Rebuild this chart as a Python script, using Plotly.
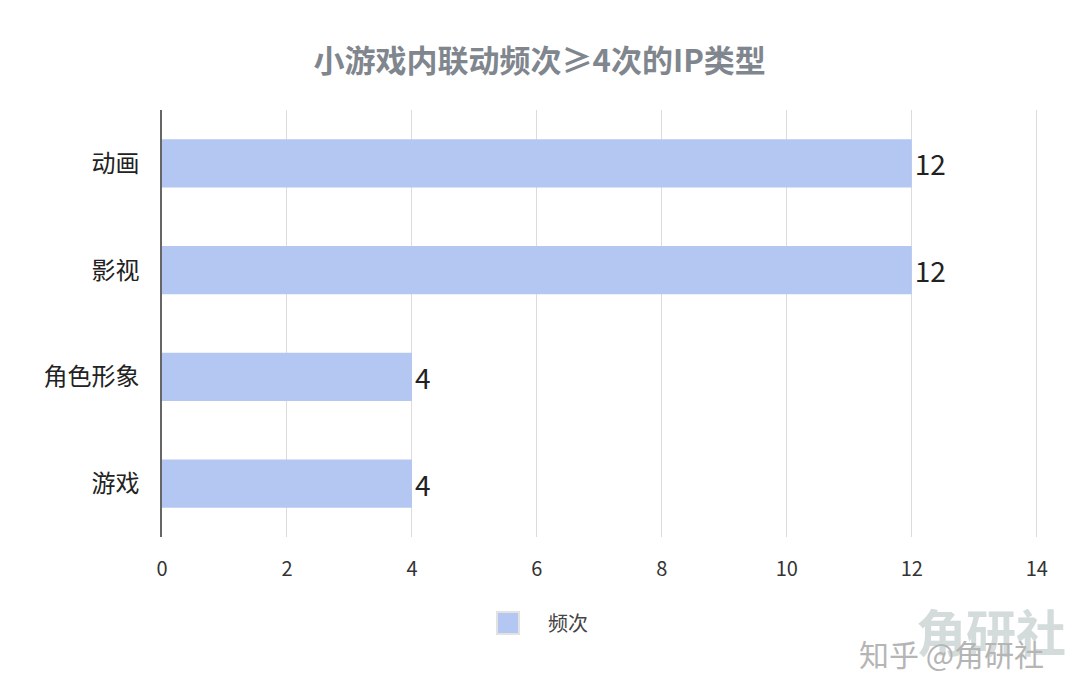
import plotly.graph_objects as go

categories = ["动画", "影视", "角色形象", "游戏"]
values = [12, 12, 4, 4]
series_name = "频次"
title_text = "小游戏内联动频次≥4次的IP类型"
x_ticks = [0, 2, 4, 6, 8, 10, 12, 14]

FONT = "Noto Sans CJK SC"
BAR_COLOR = "#b4c6f2"

fig = go.Figure()
fig.add_trace(go.Bar(
    y=categories,
    x=values,
    orientation="h",
    name=series_name,
    marker=dict(color=BAR_COLOR, line=dict(width=0)),
    width=0.45,
    text=[str(v) for v in values],
    textposition="outside",
    textfont=dict(size=28, color="#222222", family=FONT),
    cliponaxis=False,
    showlegend=False,
))

fig.update_layout(
    width=1072, height=687,
    paper_bgcolor="white", plot_bgcolor="white",
    margin=dict(l=154, r=42, t=102, b=158),
    font=dict(family=FONT),
    title=dict(text=title_text, x=0.496, xanchor="center", y=0.922, yanchor="middle",
               font=dict(size=31, color="#80868e", family=FONT, weight="bold")),
    xaxis=dict(range=[0, 14.02], tickvals=x_ticks, showgrid=True, gridcolor="#dcdcdc", gridwidth=1,
               zeroline=False, showline=False, ticks="", automargin=False,
               tickfont=dict(size=20, color="#333333"), ticklabelstandoff=18),
    yaxis=dict(categoryorder="array", categoryarray=categories[::-1], automargin=False,
               showline=True, linecolor="#666666", linewidth=1.5, ticks="",
               tickfont=dict(size=24, color="#222222"), ticklabelstandoff=16),
    bargap=0.55,
    showlegend=False,
)

# custom legend (large square like the reference)
fig.add_shape(type="rect", xref="paper", yref="paper", xsizemode="pixel", ysizemode="pixel",
              xanchor=0.395, yanchor=-0.2014, x0=-11, x1=11, y0=-11, y1=11,
              fillcolor=BAR_COLOR, line=dict(color="#e2e2e2", width=2))
fig.add_annotation(text=series_name, xref="paper", yref="paper", x=0.438, y=-0.2014,
                   xanchor="left", yanchor="middle", showarrow=False,
                   font=dict(size=20, color="#444444", family=FONT))

# watermark
fig.add_annotation(text="角研社", xref="paper", yref="paper", x=0.946, y=-0.218,
                   xanchor="center", yanchor="middle", showarrow=False,
                   font=dict(size=50, color="#d3dbdb", family=FONT, weight="bold"))
fig.add_annotation(text="知乎 @角研社", xref="paper", yref="paper", x=0.901, y=-0.272,
                   xanchor="center", yanchor="middle", showarrow=False,
                   font=dict(size=30, color="#b5b5b5", family=FONT))

fig.write_html("out.html")
